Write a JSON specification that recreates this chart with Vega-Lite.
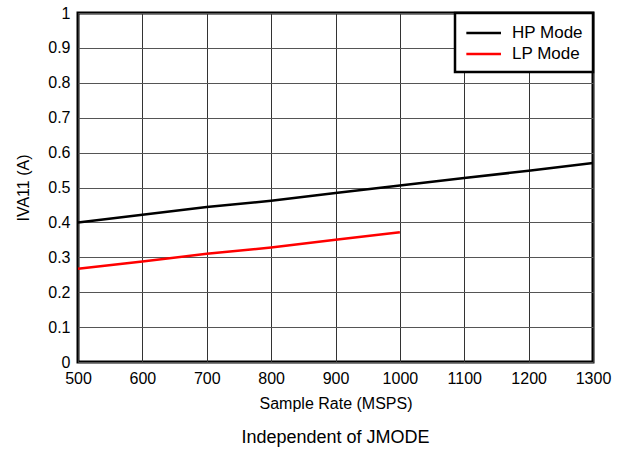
{
  "$schema": "https://vega.github.io/schema/vega-lite/v6.json",
  "width": 515,
  "height": 349,
  "autosize": {"type": "none"},
  "padding": {"left": 78, "top": 13, "right": 33, "bottom": 88},
  "background": "white",
  "config": {
    "font": "Liberation Sans",
    "view": {"stroke": "black", "strokeWidth": 3},
    "axis": {"labelFont": "Liberation Sans", "titleFont": "Liberation Sans", "labelColor": "black", "titleColor": "black", "titleFontWeight": "normal"},
    "legend": {"strokeWidth": 2.5}
  },
  "title": {"text": "Independent of JMODE", "orient": "bottom", "fontSize": 18, "fontWeight": "normal", "color": "black", "offset": 18},
  "data": {"values": [
    {"rate": 500, "i": 0.400, "mode": "HP Mode"},
    {"rate": 600, "i": 0.422, "mode": "HP Mode"},
    {"rate": 700, "i": 0.444, "mode": "HP Mode"},
    {"rate": 800, "i": 0.462, "mode": "HP Mode"},
    {"rate": 900, "i": 0.484, "mode": "HP Mode"},
    {"rate": 1000, "i": 0.506, "mode": "HP Mode"},
    {"rate": 1100, "i": 0.527, "mode": "HP Mode"},
    {"rate": 1200, "i": 0.548, "mode": "HP Mode"},
    {"rate": 1300, "i": 0.570, "mode": "HP Mode"},
    {"rate": 500, "i": 0.267, "mode": "LP Mode"},
    {"rate": 600, "i": 0.288, "mode": "LP Mode"},
    {"rate": 700, "i": 0.310, "mode": "LP Mode"},
    {"rate": 800, "i": 0.328, "mode": "LP Mode"},
    {"rate": 900, "i": 0.350, "mode": "LP Mode"},
    {"rate": 1000, "i": 0.372, "mode": "LP Mode"}
  ]},
  "mark": {"type": "line", "strokeWidth": 2.5},
  "encoding": {
    "x": {"field": "rate", "type": "quantitative",
      "scale": {"domain": [500, 1300], "nice": false},
      "axis": {"title": "Sample Rate (MSPS)", "values": [500,600,700,800,900,1000,1100,1200,1300], "format": "d", "grid": true, "gridColor": "#333", "gridWidth": 1, "gridOpacity": 1, "domain": false, "ticks": false, "labelPadding": 8, "labelFontSize": 16, "titleFontSize": 16, "titlePadding": 9, "labelFlush": false}},
    "y": {"field": "i", "type": "quantitative",
      "scale": {"domain": [0, 1], "nice": false},
      "axis": {"title": "IVA11 (A)", "values": [0,0.1,0.2,0.3,0.4,0.5,0.6,0.7,0.8,0.9,1], "labelExpr": "datum.value == 0 ? '0' : datum.value == 1 ? '1' : format(datum.value, '.1f')", "grid": true, "gridColor": "#555", "gridWidth": 1, "gridOpacity": 1, "domain": false, "ticks": false, "labelPadding": 8, "labelFontSize": 16, "titleFontSize": 16, "titlePadding": 16, "labelFlush": false}},
    "color": {"field": "mode", "type": "nominal",
      "scale": {"domain": ["HP Mode", "LP Mode"], "range": ["black", "#ff0000"]},
      "legend": {"title": null, "orient": "top-right", "offset": 0, "strokeColor": "black", "fillColor": "white", "padding": 10, "labelFontSize": 17, "labelColor": "black", "labelOffset": 27, "symbolType": "M-1,0H3", "symbolSize": 300, "symbolStrokeWidth": 2.5, "rowPadding": 3, "labelFont": "Liberation Sans"}}
  }
}
